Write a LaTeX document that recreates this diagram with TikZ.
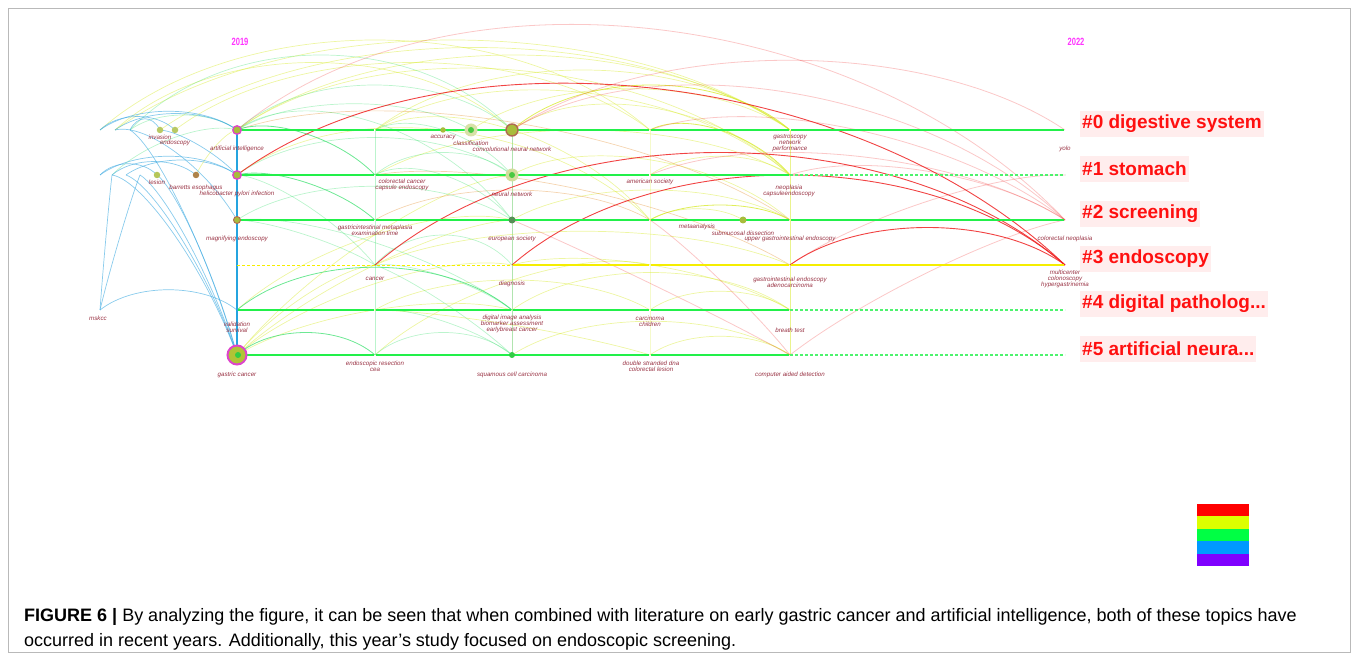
\documentclass[tikz,border=0pt]{standalone}
\usepackage{fontspec}
\setmainfont{Liberation Sans}
\usetikzlibrary{calc}

\definecolor{kwred}{HTML}{993344}
\definecolor{tlgreen}{HTML}{22F04A}
\definecolor{tlyellow}{HTML}{F5EE00}
\definecolor{cR}{HTML}{EE2222}
\definecolor{cY}{HTML}{D8EA30}
\definecolor{cG}{HTML}{3CE070}
\definecolor{cB}{HTML}{3AA8E0}
\definecolor{cO}{HTML}{E8A050}
\definecolor{yrmag}{HTML}{FF33FF}
\definecolor{clpink}{HTML}{FFEDED}
\definecolor{clred}{HTML}{FF1010}
\definecolor{ndolive}{HTML}{A8BC3C}
\definecolor{ndmag}{HTML}{DD44CC}
\definecolor{ndbrown}{HTML}{B06A50}
\definecolor{ndgreen}{HTML}{33CC44}
\definecolor{lgR}{HTML}{FF0000}
\definecolor{lgY}{HTML}{DDFF00}
\definecolor{lgG}{HTML}{00FF44}
\definecolor{lgB}{HTML}{0099FF}
\definecolor{lgP}{HTML}{7F00FF}

\begin{document}
\begin{tikzpicture}[
    x=1pt, y=-1pt,
    kw/.style={font=\fontsize{6.2}{6}\selectfont\itshape, text=kwred, inner sep=0pt, align=center},
    yr/.style={font=\fontsize{10.5}{11}\selectfont\bfseries, text=yrmag, inner sep=0pt},
    cl/.style={anchor=west, fill=clpink, text=clred, font=\fontsize{19}{22}\selectfont\bfseries,
        inner xsep=2pt, inner ysep=0pt, minimum height=26pt},
    tline/.style={tlgreen, line width=2.8pt, shorten <=1pt, shorten >=1pt},
    tdash/.style={tlgreen!80, line width=1.1pt, dash pattern=on 3pt off 2pt},
    dot/.style={circle, inner sep=0pt},
    lr/.style={cR, draw opacity=.85, line width=.9pt},
    lp/.style={cR, draw opacity=.25, line width=.8pt},
    lo/.style={cO, draw opacity=.45, line width=.7pt},
    ly/.style={cY, draw opacity=.45, line width=.7pt},
    lY/.style={cY, draw opacity=.8, line width=.8pt},
    lg/.style={cG, draw opacity=.35, line width=.7pt},
    lG/.style={cG, draw opacity=.75, line width=.8pt},
    lb/.style={cB, draw opacity=.6, line width=.7pt}
]
\useasboundingbox (0,0) rectangle (1358,660);

% Marco de la figura
\draw[gray!55, line width=.8pt] (8,8) rectangle (1350,652);

% Puntos de la rejilla: fila r (cluster) y corte s (tiempo)
\foreach \r/\y in {0/130,1/175,2/220,3/265,4/310,5/355}
  \foreach \s/\x in {0/237,1/375,2/512,3/650,4/790,5/928,6/1065}
    \coordinate (p\r-\s) at (\x,\y);

% Puntos sueltos a la izquierda y fuera de los cortes
\coordinate (l0a) at (100,130);
\coordinate (l0b) at (115,130);
\coordinate (l0c) at (130,130);
\coordinate (l1a) at (100,175);
\coordinate (l1b) at (112,175);
\coordinate (l1c) at (126,175);
\coordinate (l1d) at (140,175);
\coordinate (inv) at (160,130);
\coordinate (endo) at (175,130);
\coordinate (lsn) at (157,175);
\coordinate (barr) at (196,175);
\coordinate (acc) at (443,130);
\coordinate (cls) at (471,130);
\coordinate (sub) at (743,220);
\coordinate (msk) at (100,310);

% Lineas verticales de los cortes
\draw[cG, draw opacity=.35, line width=.8pt] (p0-1) -- (p5-1);
\draw[cG!70!olive, draw opacity=.45, line width=.9pt] (p0-2) -- (p5-2);
\draw[cY, draw opacity=.25, line width=.7pt] (p0-3) -- (p5-3);
\draw[cY, draw opacity=.55, line width=.8pt] (p0-4) -- (p5-4);

% Arcos de co-ocurrencia (desde, hasta, altura, estilo)
\foreach \a/\b/\h/\st in {
    l0a/p0-3/120/ly, l0b/p0-4/120/ly, inv/p0-4/110/ly, l0b/p0-2/90/ly,
    p0-0/p0-4/100/ly, p0-0/p1-4/110/ly, endo/p0-3/90/ly, p0-1/p0-4/80/ly,
    p0-2/p0-4/60/lY, cls/p0-4/55/ly, p0-1/p1-4/80/ly, p0-2/p1-4/60/ly,
    p1-1/p1-4/60/ly, p0-3/p1-4/30/lY, p1-3/p1-4/25/ly, p1-2/p2-4/50/ly,
    p2-2/p2-4/40/ly, p2-3/p2-4/20/lY, p2-3/sub/15/ly, p0-1/p2-3/60/ly,
    p1-0/p2-3/90/ly, p5-0/p3-1/20/ly, p5-0/p2-2/30/ly, p5-0/p1-2/40/ly,
    p5-0/p3-2/35/ly, p5-0/p4-2/30/ly, p4-0/p2-2/40/ly, p5-1/p3-3/40/ly,
    p4-1/p4-3/40/ly, p4-3/p4-4/25/ly, p5-3/p5-4/25/ly, p4-2/p4-4/50/ly,
    p3-2/p4-4/30/ly, p3-1/p3-4/45/ly, p4-1/p5-3/10/ly, p5-2/p5-4/45/ly,
    barr/p0-0/10/ly, p1-1/p3-4/40/lo, p2-1/p2-3/40/lo, p0-0/p2-4/70/lo,
    p5-0/p5-1/30/lG, p5-1/p5-2/30/lg, p4-0/p4-2/57/lG, p3-1/p4-2/15/lg,
    p3-1/p5-2/10/lg, p4-1/p5-2/15/lg, p2-0/p3-1/10/lg, p1-0/p2-1/20/lG,
    p0-0/p1-1/25/lG, p0-0/p0-2/60/lg, p1-0/p1-2/50/lg, p2-0/p2-2/45/lg,
    p0-1/p1-2/30/lg, p1-1/p2-2/30/lg, p3-1/p3-2/40/lg, p1-1/p1-2/30/lg,
    p0-0/cls/35/lg, p0-0/p2-2/70/lg, p2-0/p4-2/30/lg, p1-0/p3-1/20/lg,
    l0c/p0-2/100/lg, l0c/p0-0/20/lg, l1b/p0-0/20/lg,
    l0a/p0-0/25/lb, l0b/p0-0/22/lb, l0c/inv/15/lb, l0a/endo/18/lb,
    l1a/p1-0/25/lb, l1b/barr/18/lb, l1c/p1-0/20/lb, l1a/lsn/15/lb,
    l1b/p5-0/40/lb, l1c/p5-0/35/lb, l1d/p5-0/30/lb, lsn/p5-0/30/lb,
    l0c/p5-0/40/lb, l0b/p2-0/30/lb, inv/p1-0/10/lb, msk/l1b/8/lb,
    msk/l1d/8/lb, msk/p4-0/27/lb,
    p0-0/p2-6/195/lp, p0-2/p0-6/93/lp, p0-2/p2-6/110/lp, p0-3/p2-6/60/lp,
    p1-3/p2-6/55/lp, p1-4/p2-6/35/lp, p2-3/p5-4/10/lp, p2-2/p5-4/5/lp,
    p5-4/p2-6/20/lp, p3-4/p1-6/25/lp,
    p1-0/p3-6/176/lr, p3-1/p3-6/150/lr, p3-2/p3-6/120/lr, p3-4/p3-6/50/lr}
  \draw[\st] (\a) .. controls ($(\a)!.25!(\b)+(0,-\h)$) and ($(\b)!.25!(\a)+(0,-\h)$) .. (\b);

% Linea vertical del primer corte
\draw[cyan!60!cB, line width=1.2pt] (p0-0) -- (p5-0);

% Lineas de tiempo de cada cluster
\foreach \r in {0,2}
  \foreach \s/\t in {0/1,1/2,2/3,3/4,4/6}
    \draw[tline] (p\r-\s) -- (p\r-\t);
\foreach \r in {1,4,5} {
  \foreach \s/\t in {0/1,1/2,2/3,3/4}
    \draw[tline] (p\r-\s) -- (p\r-\t);
  \draw[tdash] (p\r-4) -- (p\r-6);
}
\draw[tlyellow, line width=.9pt, dash pattern=on 3pt off 2pt] (p3-0) -- (p3-2);
\foreach \s/\t in {2/3,3/4,4/6}
  \draw[tlyellow, line width=2.8pt, shorten <=1pt, shorten >=1pt] (p3-\s) -- (p3-\t);

% Nodos (circulos)
\node[dot, fill=ndolive!80, minimum size=6.5pt] (nInv) at (inv) {};
\node[dot, fill=ndolive!80, minimum size=6.5pt] (nEndo) at (endo) {};
\node[dot, fill=ndolive!85, minimum size=6.5pt] (nLsn) at (lsn) {};
\node[dot, fill=ndbrown!70!ndolive, minimum size=6.5pt] (nBarr) at (barr) {};
\node[dot, fill=ndolive, draw=ndmag, line width=1.3pt, minimum size=8.5pt] (nAI) at (p0-0) {};
\node[dot, fill=ndolive, draw=ndmag, line width=1.3pt, minimum size=8.5pt] (nHp) at (p1-0) {};
\node[dot, fill=ndolive, draw=ndbrown, line width=.9pt, minimum size=7pt] (nMag) at (p2-0) {};
\node[dot, fill=ndolive, minimum size=5.5pt] (nAcc) at (acc) {};
\node[dot, fill=ndolive!45, minimum size=13pt] (nCls) at (cls) {};
\node[dot, fill=ndgreen!80!ndolive, minimum size=6pt] (nClsc) at (cls) {};
\node[dot, fill=ndolive, draw=ndbrown, line width=1.4pt, minimum size=12pt] (nCnn) at (p0-2) {};
\node[dot, fill=ndolive!50, minimum size=13pt] (nNn) at (p1-2) {};
\node[dot, fill=ndgreen!80!ndolive, minimum size=6pt] (nNnc) at (p1-2) {};
\node[dot, fill=green!25!gray!90!black, minimum size=7pt] (nEur) at (p2-2) {};
\node[dot, fill=ndolive, minimum size=7pt] (nSub) at (sub) {};
\node[dot, fill=ndgreen, minimum size=6pt] (nSq) at (p5-2) {};
\node[dot, fill=ndolive!90!yellow, draw=ndmag, line width=2pt, minimum size=19pt] (nGC) at (p5-0) {};
\node[dot, fill=ndgreen, minimum size=6pt] (nGCc) at ([xshift=1pt]p5-0) {};

% Etiquetas de palabras clave
\node[kw] (kInv) at (160,137) {invasion};
\node[kw] (kEndo) at (175,143) {endoscopy};
\node[kw] (kAI) at (237,149) {artificial intelligence};
\node[kw] (kAcc) at (443,137) {accuracy};
\node[kw] (kCls) at (471,143) {classification};
\node[kw] (kCnn) at (512,149) {convolutional neural network};
\node[kw] (kGas) at (790,143) {gastroscopy\\network\\performance};
\node[kw] (kYolo) at (1065,149) {yolo};
\node[kw] (kLsn) at (157,182) {lesion};
\node[kw] (kBarr) at (196,188) {barretts esophagus};
\node[kw] (kHp) at (237,194) {helicobacter pylori infection};
\node[kw] (kCrc) at (402,185) {colorectal cancer\\capsule endoscopy};
\node[kw] (kNn) at (512,194) {neural network};
\node[kw] (kAms) at (650,182) {american society};
\node[kw] (kNeo) at (789,191) {neoplasia\\capsuleendoscopy};
\node[kw] (kMag) at (237,239) {magnifying endoscopy};
\node[kw] (kGim) at (375,230) {gastricintestinal metaplasia\\examination time};
\node[kw] (kEur) at (512,239) {european society};
\node[kw] (kMeta) at (697,227) {metaanalysis};
\node[kw] (kSub) at (743,233) {submucosal dissection};
\node[kw] (kUgi) at (790,239) {upper gastrointestinal endoscopy};
\node[kw] (kCrn) at (1065,239) {colorectal neoplasia};
\node[kw] (kCan) at (375,279) {cancer};
\node[kw] (kDia) at (512,284) {diagnosis};
\node[kw] (kGie) at (790,282) {gastrointestinal endoscopy\\adenocarcinoma};
\node[kw] (kMul) at (1065,279) {multicenter\\colonoscopy\\hypergastrinemia};
\node[kw] (kMsk) at (98,318) {mskcc};
\node[kw] (kVal) at (237,327) {validation\\survival};
\node[kw] (kDig) at (512,324) {digital image analysis\\biomarker assessment\\earlybreast cancer};
\node[kw] (kCar) at (650,321) {carcinoma\\children};
\node[kw] (kBre) at (790,330) {breath test};
\node[kw] (kGC) at (237,375) {gastric cancer};
\node[kw] (kEsr) at (375,366) {endoscopic resection\\cea};
\node[kw] (kSq) at (512,375) {squamous cell carcinoma};
\node[kw] (kDna) at (651,366) {double stranded dna\\colorectal lesion};
\node[kw] (kCad) at (790,375) {computer aided detection};

% Anos
\node[yr] (y2019) at (240,42) {\scalebox{.72}[1]{2019}};
\node[yr] (y2022) at (1076,42) {\scalebox{.72}[1]{2022}};

% Nombres de los clusters
\node[cl] (c0) at (1080,124) {\#0 digestive system};
\node[cl] (c1) at (1080,169) {\#1 stomach};
\node[cl] (c2) at (1080,214) {\#2 screening};
\node[cl] (c3) at (1080,259) {\#3 endoscopy};
\node[cl] (c4) at (1080,304) {\#4 digital patholog...};
\node[cl] (c5) at (1080,349) {\#5 artificial neura...};

% Leyenda de colores
\foreach \c [count=\i from 0] in {lgR,lgY,lgG,lgB,lgP}
  \fill[\c] (1197,{504+12.4*\i}) rectangle ++(52,12.4);

% Pie de figura
\node[anchor=base west, inner sep=0pt, font=\fontsize{18}{20}\selectfont] (cap1) at (24,621)
    {\textbf{FIGURE 6 |} By analyzing the figure, it can be seen that when combined with literature on early gastric cancer and artificial intelligence, both of these topics have};
\node[anchor=base west, inner sep=0pt, font=\fontsize{18}{20}\selectfont] (cap2) at (24,646)
    {occurred in recent years. Additionally, this year’s study focused on endoscopic screening.};

\end{tikzpicture}
\end{document}
